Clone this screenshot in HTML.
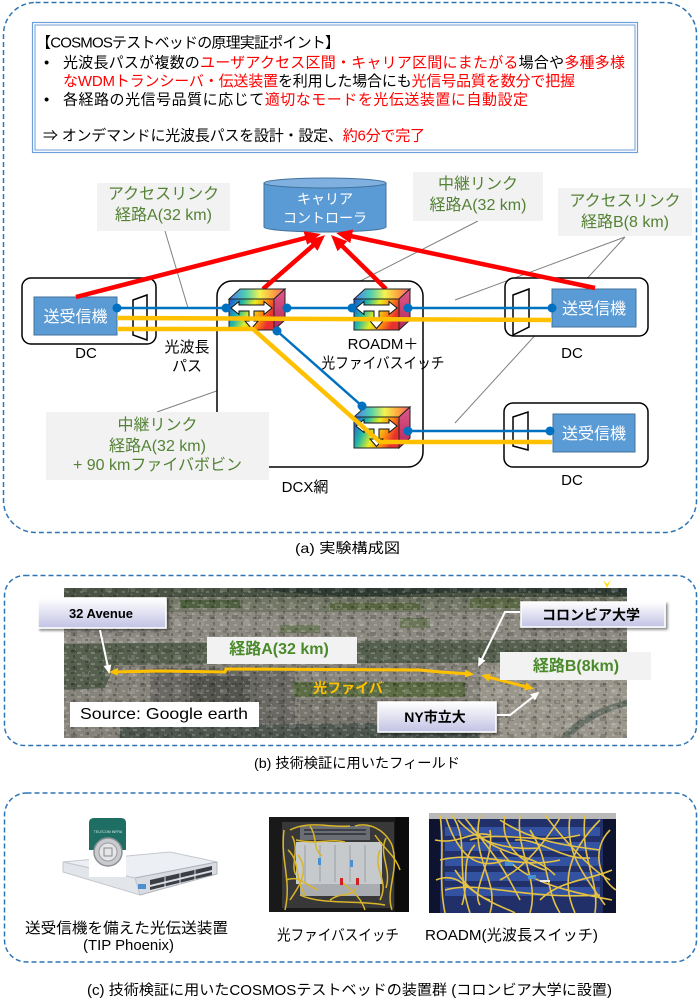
<!DOCTYPE html>
<html><head><meta charset="utf-8"><style>
html,body{margin:0;padding:0;background:#fff;}
svg{display:block;}
text{font-family:"Liberation Sans","Noto Sans CJK JP",sans-serif;}
</style></head><body>
<svg width="700" height="1007" viewBox="0 0 700 1007" xmlns="http://www.w3.org/2000/svg">
<defs>
 <linearGradient id="rb" x1="0" y1="0" x2="1" y2="0.3">
  <stop offset="0" stop-color="#1f4fd8"/>
  <stop offset="0.3" stop-color="#22b8a8"/>
  <stop offset="0.55" stop-color="#e8ee20"/>
  <stop offset="0.8" stop-color="#ff8a10"/>
  <stop offset="1" stop-color="#e83030"/>
 </linearGradient>
 <linearGradient id="rbt" x1="0" y1="0" x2="1" y2="0">
  <stop offset="0" stop-color="#4a7af0"/>
  <stop offset="0.3" stop-color="#50d0b0"/>
  <stop offset="0.55" stop-color="#f4f450"/>
  <stop offset="0.8" stop-color="#ffa040"/>
  <stop offset="1" stop-color="#f06080"/>
 </linearGradient>
 <linearGradient id="side" x1="0" y1="0" x2="0" y2="1">
  <stop offset="0" stop-color="#e25a8c"/><stop offset="1" stop-color="#b02858"/>
 </linearGradient>
 <g id="cube">
  <polygon points="0,0 11,-10 56,-10 45,0" fill="url(#rbt)" stroke="#222" stroke-width="1"/>
  <polygon points="45,0 56,-10 56,21 45,31" fill="url(#side)" stroke="#222" stroke-width="1"/>
  <rect x="0" y="0" width="45" height="31" fill="url(#rb)" stroke="#222" stroke-width="1"/>
  <polygon points="2,9 10,2.5 10,6 35,6 35,2.5 43,9 35,15.5 35,12 25,12 25,22 29,22 22.5,29.5 16,22 20,22 20,12 10,12 10,15.5" fill="#fff" stroke="#111" stroke-width="1"/>
 </g>
 <marker id="ra" markerUnits="userSpaceOnUse" markerWidth="16" markerHeight="14" refX="10" refY="7" orient="auto">
  <path d="M0,0 L16,7 L0,14 z" fill="#ff0000"/>
 </marker>
 <marker id="wa" markerUnits="userSpaceOnUse" markerWidth="9" markerHeight="8" refX="7" refY="4" orient="auto">
  <path d="M0,0 L9,4 L0,8 z" fill="#fff"/>
 </marker>
 <marker id="ya" markerUnits="userSpaceOnUse" markerWidth="9" markerHeight="8" refX="6" refY="4" orient="auto-start-reverse">
  <path d="M0,0 L9,4 L0,8 z" fill="#ffc000"/>
 </marker>
 <linearGradient id="lav" x1="0" y1="0" x2="0" y2="1">
  <stop offset="0" stop-color="#ffffff"/><stop offset="1" stop-color="#c2c2e4"/>
 </linearGradient>
 <clipPath id="mapclip"><rect x="64" y="588" width="563" height="150"/></clipPath>
 <pattern id="tex" width="14" height="11" patternUnits="userSpaceOnUse">
  <rect x="1" y="1" width="3" height="2" fill="#000" opacity="0.25"/>
  <rect x="7" y="3" width="4" height="2" fill="#fff" opacity="0.2"/>
  <rect x="3" y="6" width="2" height="3" fill="#000" opacity="0.22"/>
  <rect x="10" y="8" width="3" height="2" fill="#fff" opacity="0.18"/>
  <rect x="5" y="0" width="1" height="1" fill="#fff" opacity="0.3"/>
 </pattern>
 <pattern id="tex2" width="23" height="17" patternUnits="userSpaceOnUse">
  <rect x="2" y="3" width="6" height="4" fill="#000" opacity="0.15"/>
  <rect x="13" y="9" width="7" height="5" fill="#fff" opacity="0.12"/>
  <rect x="16" y="1" width="4" height="3" fill="#000" opacity="0.12"/>
 </pattern>
 <filter id="sh" x="-10%" y="-20%" width="130%" height="160%">
  <feDropShadow dx="2" dy="2" stdDeviation="1.2" flood-color="#000" flood-opacity="0.45"/>
 </filter>
</defs>

<!-- ===== Section (a) ===== -->
<rect x="3.5" y="2.5" width="693" height="530" rx="32" fill="none" stroke="#2e75b6" stroke-width="1.5" stroke-dasharray="5 3"/>

<rect x="32.5" y="22.5" width="605" height="130" fill="#fff" stroke="#6f9fd8" stroke-width="1.2"/>
<rect x="35" y="25" width="600" height="125" fill="none" stroke="#6f9fd8" stroke-width="1"/>
<g font-size="15" fill="#000">
 <text x="36" y="47.5" textLength="304" lengthAdjust="spacing">【COSMOSテストベッドの原理実証ポイント】</text>
 <text x="44" y="67.5">•</text>
 <text x="63" y="67.5" textLength="562" lengthAdjust="spacing">光波長パスが複数の<tspan fill="#ff0000">ユーザアクセス区間・キャリア区間にまたがる</tspan>場合や<tspan fill="#ff0000">多種多様</tspan></text>
 <text x="63" y="86" textLength="512" lengthAdjust="spacing"><tspan fill="#ff0000">なWDMトランシーバ・伝送装置</tspan>を利用した場合にも<tspan fill="#ff0000">光信号品質を数分で把握</tspan></text>
 <text x="44" y="104.5">•</text>
 <text x="63" y="104.5" textLength="465" lengthAdjust="spacing">各経路の光信号品質に応じて<tspan fill="#ff0000">適切なモードを光伝送装置に自動設定</tspan></text>
 <text x="43" y="140.5" textLength="382" lengthAdjust="spacing">⇒ オンデマンドに光波長パスを設計・設定、<tspan fill="#ff0000">約6分で完了</tspan></text>
</g>

<g stroke="#808080" stroke-width="1" fill="none">
 <line x1="165" y1="231" x2="188" y2="308"/>
 <line x1="478" y1="221" x2="323" y2="300"/>
 <line x1="625" y1="237" x2="455" y2="300"/>
 <line x1="625" y1="237" x2="455" y2="423"/>
 <line x1="157" y1="412" x2="310" y2="358"/>
</g>

<rect x="97" y="183" width="133" height="48" fill="#f2f2f2"/>
<rect x="413" y="172" width="130" height="49" fill="#f2f2f2"/>
<rect x="558" y="188" width="134" height="48" fill="#f2f2f2"/>
<g font-size="16" fill="#548235" text-anchor="middle">
 <text x="163.5" y="199">アクセスリンク</text>
 <text x="163.5" y="220">経路A(32 km)</text>
 <text x="478" y="189">中継リンク</text>
 <text x="478" y="210">経路A(32 km)</text>
 <text x="625" y="206">アクセスリンク</text>
 <text x="625" y="227">経路B(8 km)</text>
</g>

<path d="M264,183 L264,227 A61,5 0 0 0 386,227 L386,183 Z" fill="#5b9bd5" stroke="#41719c" stroke-width="1"/>
<ellipse cx="325" cy="183" rx="61" ry="5" fill="#7fb0e0" stroke="#41719c" stroke-width="1"/>
<g font-size="14" fill="#fff" text-anchor="middle">
 <text x="325" y="204">キャリア</text>
 <text x="325" y="223">コントローラ</text>
</g>

<g fill="#fff" stroke="#000" stroke-width="1.5">
 <rect x="22" y="278" width="134" height="66" rx="9"/>
 <rect x="505" y="278" width="143" height="58" rx="9"/>
 <rect x="504" y="403" width="144" height="64" rx="9"/>
 <rect x="217" y="281" width="206" height="186" rx="15"/>
</g>
<g fill="#fff" stroke="#000" stroke-width="1.5">
 <polygon points="133,300 147,295 147,340 133,335"/>
 <polygon points="513,295 529,289 529,327 513,335"/>
 <polygon points="513,417 528,412 528,450 513,446"/>
</g>
<g fill="#5b9bd5" stroke="#41719c" stroke-width="1">
 <rect x="34" y="297" width="83" height="38"/>
 <rect x="552" y="289" width="84" height="38"/>
 <rect x="553" y="414" width="82" height="38"/>
</g>
<g font-size="16" fill="#fff" text-anchor="middle">
 <text x="75.5" y="322">送受信機</text>
 <text x="594" y="314">送受信機</text>
 <text x="594" y="439">送受信機</text>
</g>

<rect x="46" y="412" width="223" height="68" fill="#f2f2f2"/>
<g font-size="16" fill="#548235" text-anchor="middle">
 <text x="157.5" y="430">中継リンク</text>
 <text x="157.5" y="451">経路A(32 km)</text>
 <text x="157.5" y="470">+ 90 kmファイバボビン</text>
</g>

<g stroke="#ff0000" stroke-width="4.5" fill="none" marker-end="url(#ra)">
 <line x1="76" y1="297" x2="315" y2="235.5"/>
 <line x1="263" y1="289" x2="320.5" y2="239"/>
 <line x1="386" y1="289" x2="335.3" y2="239.2"/>
 <line x1="595" y1="288" x2="342" y2="234.2"/>
</g>

<g stroke="#0070c0" stroke-width="2.5" fill="none">
 <line x1="117" y1="308" x2="226" y2="308"/>
 <line x1="287" y1="308" x2="352" y2="308"/>
 <line x1="408" y1="308" x2="552" y2="308"/>
 <line x1="277" y1="331" x2="362" y2="406"/>
 <line x1="408" y1="431" x2="550" y2="431"/>
</g>

<use href="#cube" x="229" y="299"/>
<use href="#cube" x="354" y="299"/>
<use href="#cube" x="354" y="417"/>

<g stroke="#ffc000" stroke-width="4.5" fill="none" stroke-linejoin="round">
 <line x1="117" y1="318" x2="552" y2="320"/>
 <polyline points="117,329 253,329 380,442 552,442"/>
</g>

<g fill="#0070c0">
 <circle cx="117" cy="308" r="4.5"/>
 <circle cx="226" cy="308" r="4.5"/>
 <circle cx="287" cy="308" r="4.5"/>
 <circle cx="352" cy="308" r="4.5"/>
 <circle cx="408" cy="308" r="4.5"/>
 <circle cx="552" cy="308" r="4.5"/>
 <circle cx="277" cy="331" r="4.5"/>
 <circle cx="362" cy="406" r="4.5"/>
 <circle cx="408" cy="431" r="4.5"/>
 <circle cx="550" cy="431" r="4.5"/>
</g>

<g font-size="15" fill="#000" text-anchor="middle">
 <text x="86" y="358">DC</text>
 <text x="572" y="358">DC</text>
 <text x="572" y="485">DC</text>
 <text x="187" y="352">光波長</text>
 <text x="187" y="371">パス</text>
 <text x="383" y="349">ROADM＋</text>
 <text x="383" y="368" textLength="123" lengthAdjust="spacingAndGlyphs">光ファイバスイッチ</text>
 <text x="305" y="492">DCX網</text>
</g>
<text x="347.5" y="553" font-size="14" text-anchor="middle" textLength="105" lengthAdjust="spacingAndGlyphs">(a) 実験構成図</text>

<!-- ===== Section (b) ===== -->
<rect x="4.5" y="575.5" width="692" height="170" rx="20" fill="none" stroke="#2e75b6" stroke-width="1.5" stroke-dasharray="5 3"/>
<g clip-path="url(#mapclip)">
 <rect x="64" y="588" width="563" height="150" fill="#86837b"/>
 <rect x="64" y="588" width="563" height="9" fill="#4a5343"/>
 <path d="M250,588 Q330,600 420,594 Q480,590 627,596 L627,588 Z" fill="#2f3a33"/>
 <path d="M64,597 L627,597 L627,612 L64,612 Z" fill="#727766"/>
 <rect x="180" y="600" width="60" height="8" fill="#4f6040"/>
 <rect x="330" y="603" width="90" height="7" fill="#56653f"/>
 <rect x="470" y="598" width="50" height="10" fill="#5a6846"/>
 <path d="M64,612 L627,612 L627,641 L64,643 Z" fill="#8d8a82"/>
 <rect x="280" y="625" width="40" height="8" fill="#6f7a5c"/>
 <rect x="400" y="618" width="30" height="10" fill="#6b7558"/>
 <path d="M64,644 L300,641 L500,640 L627,640 L627,662 L400,663 L115,665 L105,688 L64,690 Z" fill="#56604f"/>
 <rect x="150" y="668" width="145" height="60" fill="#6a6963"/>
 <rect x="190" y="676" width="60" height="40" fill="#55554f"/>
 <rect x="294" y="682" width="171" height="15" fill="#5c6c44"/>
 <rect x="300" y="700" width="170" height="24" fill="#7a776f"/>
 <path d="M480,666 L627,660 L627,738 L480,738 Z" fill="#9a968c"/>
 <path d="M120,726 L470,722 L480,738 L120,738 Z" fill="#4e5750"/>
 <path d="M560,738 Q580,712 627,700 L627,706 Q590,716 570,738 Z" fill="#6a7268"/>
 <rect x="64" y="588" width="563" height="150" fill="url(#tex2)"/>
 <rect x="64" y="588" width="563" height="150" fill="url(#tex)"/>
</g>
<g stroke="#ffc000" stroke-width="3" fill="none" marker-start="url(#ya)" marker-end="url(#ya)">
 <polyline points="112,672 160,671 225,672 226,669 420,670 440,672 471,674"/>
 <line x1="484" y1="676" x2="531" y2="688"/>
</g>
<path d="M603,580 L607,588 L611,580 L607,584 Z" fill="#ffe000"/>
<rect x="207" y="637" width="150" height="27" fill="#f2f2f2"/>
<rect x="500" y="652" width="151" height="28" fill="#f2f2f2"/>
<rect x="70" y="702" width="189" height="25" fill="#fff"/>
<g filter="url(#sh)" stroke="#fff" stroke-width="1.5" fill="url(#lav)">
 <rect x="38" y="598" width="128" height="30"/>
 <rect x="521" y="602" width="144" height="25"/>
 <rect x="378" y="702" width="118" height="30"/>
</g>
<g stroke="#fff" stroke-width="2" fill="none" marker-end="url(#wa)">
 <line x1="100" y1="630" x2="109" y2="672"/>
 <polyline points="520,612 505,612 479,665"/>
 <polyline points="497,715 510,715 538,693"/>
</g>
<g font-weight="bold">
 <text x="101" y="618" font-size="13" text-anchor="middle">32 Avenue</text>
 <text x="591" y="620" font-size="14" text-anchor="middle">コロンビア大学</text>
 <text x="435" y="722" font-size="14" text-anchor="middle">NY市立大</text>
 <text x="279" y="654" font-size="16" fill="#4a8a2a" text-anchor="middle">経路A(32 km)</text>
 <text x="576" y="671" font-size="16" fill="#4a8a2a" text-anchor="middle">経路B(8km)</text>
 <text x="348" y="693" font-size="14" fill="#ffc000" text-anchor="middle">光ファイバ</text>
</g>
<text x="80" y="719" font-size="16" textLength="168" lengthAdjust="spacingAndGlyphs">Source: Google earth</text>
<text x="357" y="768" font-size="14" text-anchor="middle" textLength="206" lengthAdjust="spacingAndGlyphs">(b) 技術検証に用いたフィールド</text>

<!-- ===== Section (c) ===== -->
<rect x="4.5" y="793" width="692" height="169" rx="22" fill="none" stroke="#2e75b6" stroke-width="1.5" stroke-dasharray="5 3"/>

<!-- TIP Phoenix device -->
<polygon points="63,862 170,852 217,862 135,878" fill="#eceff3" stroke="#c4c8ce" stroke-width="1"/>
<polygon points="135,878 217,862 217,874 140,895" fill="#d8dce2" stroke="#b0b4ba" stroke-width="1"/>
<polygon points="63,862 135,878 140,895 63,872" fill="#e2e5ea" stroke="#c4c8ce" stroke-width="1"/>
<g fill="#3a3d44">
 <polygon points="150,880 212,866 212,870 150,885"/>
 <polygon points="150,887 212,872 212,875 150,890"/>
</g>
<g stroke="#e0e3e8" stroke-width="1">
 <line x1="165" y1="877" x2="165" y2="889"/>
 <line x1="180" y1="873" x2="180" y2="885"/>
 <line x1="195" y1="870" x2="195" y2="881"/>
</g>
<rect x="138" y="884" width="8" height="5" fill="#4a90d0"/>
<rect x="89" y="845" width="37" height="32" fill="#fff"/>
<path d="M89,850 L89,823 Q89,818 94,818 L121,818 Q126,818 126,823 L126,850 Z" fill="#1e6e63"/>
<circle cx="108" cy="852" r="14" fill="#c9cbce" stroke="#8d9095" stroke-width="1.5"/>
<circle cx="108" cy="852" r="9" fill="#e4e6e8" stroke="#9a9da2" stroke-width="1"/>
<rect x="104" y="848" width="8" height="8" fill="none" stroke="#888" stroke-width="1"/>
<text x="108" y="833" font-size="3.5" fill="#d8ece8" text-anchor="middle">TELECOM INFRA</text>

<!-- fiber switch photo -->
<rect x="269" y="817" width="140" height="95" fill="#191919"/>
<rect x="282" y="822" width="112" height="86" fill="#383838"/>
<rect x="300" y="826" width="70" height="14" fill="#6a6e74"/>
<g fill="#3c4046">
 <rect x="304" y="829" width="62" height="2"/>
 <rect x="304" y="833" width="62" height="2"/>
</g>
<rect x="296" y="842" width="86" height="42" fill="#c6cacd"/>
<g stroke="#9aa0a6" stroke-width="1">
 <line x1="305" y1="845" x2="305" y2="882"/>
 <line x1="320" y1="845" x2="320" y2="882"/>
 <line x1="335" y1="845" x2="335" y2="882"/>
 <line x1="350" y1="845" x2="350" y2="882"/>
 <line x1="365" y1="845" x2="365" y2="882"/>
</g>
<rect x="300" y="884" width="80" height="12" fill="#a9adb1"/>
<rect x="395" y="817" width="14" height="95" fill="#0c0c0c"/>
<g stroke="#d9b52a" stroke-width="1.5" fill="none">
 <path d="M284,830 C280,860 292,880 285,910"/>
 <path d="M290,830 C310,820 330,828 350,826"/>
 <path d="M355,826 C370,822 385,830 392,845"/>
 <path d="M392,845 C400,870 385,890 392,910"/>
 <path d="M288,850 C300,860 295,880 305,895"/>
 <path d="M380,850 C372,870 390,880 380,900"/>
 <path d="M300,895 C320,905 360,900 385,905"/>
 <path d="M296,840 C320,845 330,838 345,842"/>
 <path d="M340,880 C350,890 360,895 365,910"/>
 <path d="M286,880 C300,875 305,885 318,890"/>
 <path d="M375,835 C385,850 395,855 400,870"/>
 <path d="M290,900 C300,885 310,870 298,855"/>
 <path d="M292,836 C300,850 290,865 296,875"/>
 <path d="M386,838 C378,855 392,868 386,888"/>
 <path d="M310,826 C318,838 312,848 322,856"/>
 <path d="M330,900 C340,892 350,898 356,888"/>
</g>
<rect x="318" y="858" width="3" height="7" fill="#4a90d0"/>
<rect x="350" y="860" width="3" height="7" fill="#4a90d0"/>
<rect x="356" y="878" width="3" height="7" fill="#d02020"/>
<rect x="340" y="878" width="3" height="7" fill="#d02020"/>

<!-- ROADM photo -->
<rect x="429" y="813" width="187" height="100" fill="#22306a"/>
<rect x="429" y="813" width="187" height="6" fill="#b8b8b8"/>
<g fill="#3556a8" opacity="0.9">
 <rect x="445" y="827" width="155" height="9"/>
 <rect x="445" y="842" width="155" height="9"/>
 <rect x="445" y="857" width="155" height="9"/>
 <rect x="445" y="872" width="155" height="9"/>
 <rect x="445" y="887" width="155" height="9"/>
</g>
<rect x="429" y="819" width="11" height="94" fill="#0e1430"/>
<rect x="603" y="819" width="13" height="94" fill="#0e1430"/>
<g stroke="#e6c243" stroke-width="1.6" fill="none">
 <path d="M440,815 C445,850 438,880 445,913"/>
 <path d="M452,815 C470,840 455,870 470,913"/>
 <path d="M465,818 C490,850 500,860 520,900"/>
 <path d="M480,815 C470,860 500,880 490,913"/>
 <path d="M500,820 C530,840 560,845 600,850"/>
 <path d="M520,815 C515,850 540,880 530,913"/>
 <path d="M545,815 C560,835 590,870 610,880"/>
 <path d="M560,818 C540,850 520,870 500,880"/>
 <path d="M585,815 C580,860 600,880 595,913"/>
 <path d="M600,820 C570,850 560,880 575,913"/>
 <path d="M440,860 C480,850 520,870 560,860"/>
 <path d="M445,890 C480,880 520,900 600,895"/>
 <path d="M470,840 C500,830 540,845 580,835"/>
 <path d="M500,850 C520,880 560,890 612,900"/>
 <path d="M455,870 C475,900 500,905 515,913"/>
 <path d="M530,830 C550,860 545,890 560,913"/>
 <path d="M610,830 C590,850 600,880 616,890"/>
 <path d="M435,840 C460,845 470,830 490,835"/>
 <path d="M458,820 C480,845 510,850 540,848"/>
 <path d="M490,830 C495,860 470,890 480,905"/>
 <path d="M446,818 C460,860 480,870 505,860"/>
 <path d="M472,828 C500,860 530,850 555,875"/>
 <path d="M505,816 C500,840 515,860 545,870"/>
 <path d="M570,816 C565,850 580,870 605,905"/>
 <path d="M436,880 C460,870 470,895 490,900"/>
 <path d="M540,900 C560,880 590,880 612,870"/>
 <path d="M515,840 C540,838 560,860 590,858"/>
 <path d="M462,905 C470,880 460,860 475,845"/>
</g>
<rect x="505" y="862" width="8" height="4" fill="#4a90d0"/>
<rect x="528" y="875" width="8" height="4" fill="#4a90d0"/>
<rect x="540" y="880" width="10" height="2" fill="#e8e8e8"/>

<g font-size="15" fill="#000" text-anchor="middle">
 <text x="126.5" y="933" textLength="203" lengthAdjust="spacingAndGlyphs">送受信機を備えた光伝送装置</text>
 <text x="128.5" y="950" textLength="91" lengthAdjust="spacingAndGlyphs">(TIP Phoenix)</text>
 <text x="338" y="940" textLength="122" lengthAdjust="spacingAndGlyphs">光ファイバスイッチ</text>
 <text x="511.5" y="940" textLength="173" lengthAdjust="spacingAndGlyphs">ROADM(光波長スイッチ)</text>
</g>
<text x="349.5" y="995" font-size="14.5" text-anchor="middle" textLength="525" lengthAdjust="spacingAndGlyphs">(c) 技術検証に用いたCOSMOSテストベッドの装置群 (コロンビア大学に設置)</text>
</svg>
</body></html>
